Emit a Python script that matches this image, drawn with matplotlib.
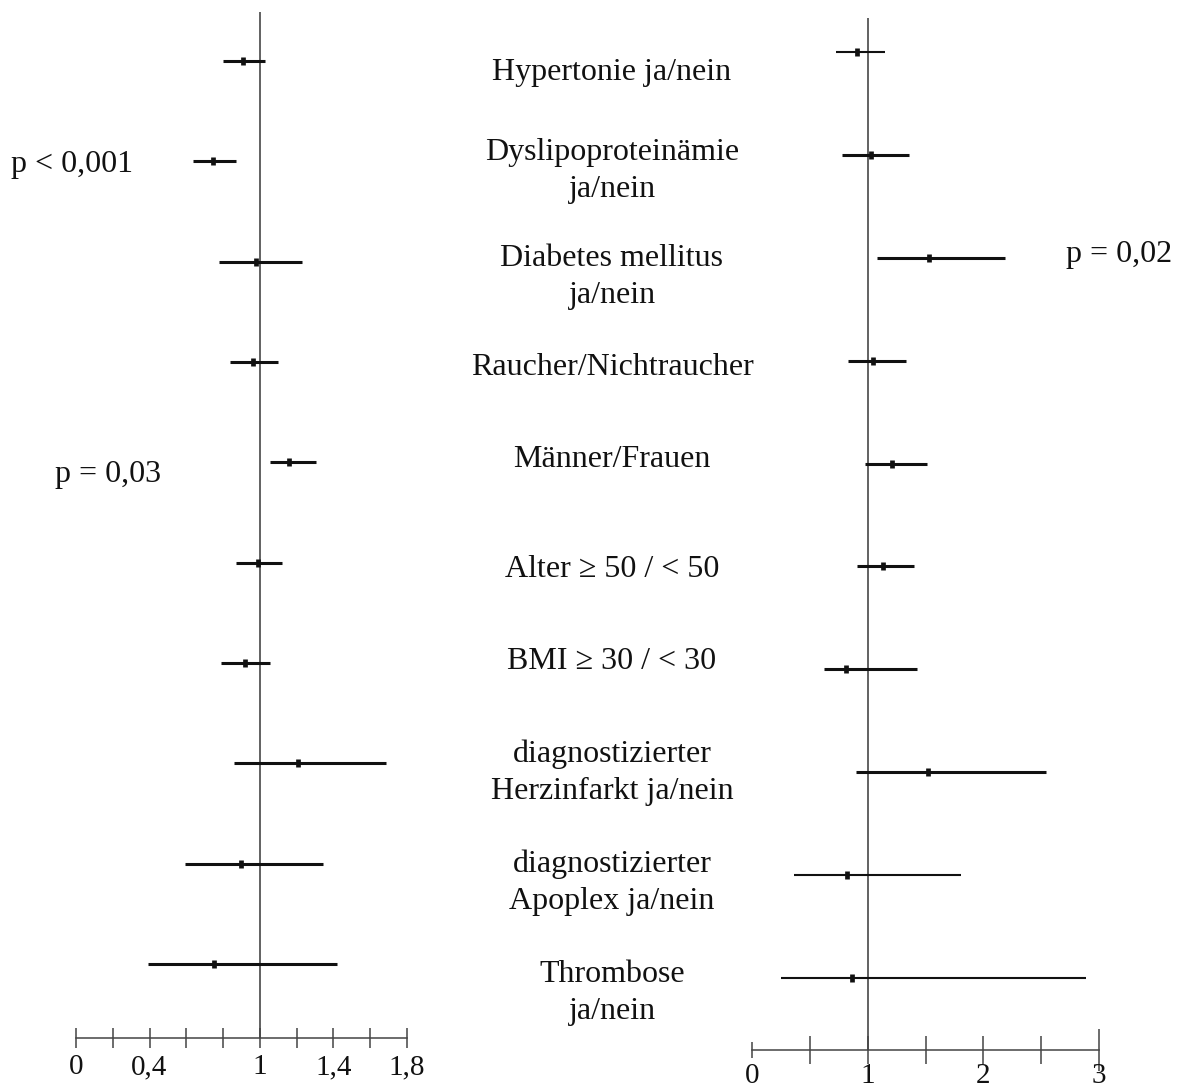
import matplotlib
matplotlib.use('Agg')
import matplotlib.pyplot as plt
import numpy as np

plt.rcParams['font.family'] = ['Liberation Serif', 'DejaVu Serif']

# ---------------- data ----------------
labels = ["Hypertonie ja/nein",
          "Dyslipoproteinämie\nja/nein",
          "Diabetes mellitus\nja/nein",
          "Raucher/Nichtraucher",
          "Männer/Frauen",
          "Alter ≥ 50 / < 50",
          "BMI ≥ 30 / < 30",
          "diagnostizierter\nHerzinfarkt ja/nein",
          "diagnostizierter\nApoplex ja/nein",
          "Thrombose\nja/nein"]

left_est = [0.91, 0.747, 0.98, 0.96, 1.16, 0.99, 0.92, 1.207, 0.896, 0.749]
left_lo = [0.80, 0.638, 0.78, 0.84, 1.055, 0.87, 0.79, 0.861, 0.593, 0.393]
left_hi = [1.027, 0.870, 1.23, 1.10, 1.305, 1.12, 1.055, 1.686, 1.345, 1.421]

right_est = [0.91, 1.026, 1.532, 1.046, 1.21, 1.13, 0.81, 1.524, 0.818, 0.864]
right_lo = [0.726, 0.78, 1.078, 0.83, 0.977, 0.907, 0.62, 0.899, 0.363, 0.25]
right_hi = [1.15, 1.36, 2.187, 1.33, 1.512, 1.40, 1.426, 2.54, 1.81, 2.884]

left_ticks = [0, 0.2, 0.4, 0.6, 0.8, 1.0, 1.2, 1.4, 1.6, 1.8]
left_ticklabels = ['0', '', '0,4', '', '', '1', '', '1,4', '', '1,8']
right_ticks = [0, 0.5, 1.0, 1.5, 2.0, 2.5, 3.0]
right_ticklabels = ['0', '', '1', '', '2', '', '3']

pvals = ["p < 0,001", "p = 0,03", "p = 0,02"]

# ---------------- style / layout ----------------
W, H = 1184, 1090
fig = plt.figure(figsize=(W / 100, H / 100), dpi=100)
ink = '#111111'
axis_col = '#444444'
ref_col = '#555555'

def px_axes(x0, x1, ytop, ybot):
    return fig.add_axes([x0 / W, 1 - ybot / H, (x1 - x0) / W, (ybot - ytop) / H])

axL = px_axes(76, 407, 12, 1038)
axR = px_axes(752, 1099, 18, 1050)

rows = np.arange(len(labels))
right_thin = [True, False, False, False, False, False, False, False, True, True]

def setup(ax, ticks, ticklabels, xlim, ylim, length, pad):
    ax.set_xlim(*xlim)
    ax.set_ylim(*ylim)
    for s in ['left', 'right', 'top']:
        ax.spines[s].set_visible(False)
    ax.spines['bottom'].set_color(axis_col)
    ax.spines['bottom'].set_linewidth(1.1)
    ax.set_yticks([])
    ax.set_xticks(ticks)
    ax.set_xticklabels(ticklabels)
    ax.tick_params(axis='x', direction='inout', length=length, width=1.1,
                   color=axis_col, labelsize=21, pad=pad, labelcolor=ink)
    ax.axvline(1, color=ref_col, lw=1.3, zorder=1)
    ax.patch.set_visible(False)

setup(axL, left_ticks, left_ticklabels, (0, 1.8), (9.738, -0.488), 14, 4.5)
setup(axR, right_ticks, right_ticklabels, (0, 3), (9.699, -0.330), 20, -0.8)

# left panel
axL.hlines(rows, left_lo, left_hi, color=ink, lw=2.2, zorder=3)
axL.plot(left_est, rows, ls='none', marker='|', ms=6, mew=3.4, color=ink, zorder=4)

# right panel
for i in rows:
    lw = 1.5 if right_thin[i] else 2.2
    axR.hlines(i, right_lo[i], right_hi[i], color=ink, lw=lw, zorder=3)
axR.plot(right_est, rows, ls='none', marker='|', ms=6, mew=3.4, color=ink, zorder=4)

# custom tick sizes on right axis
rticks = axR.xaxis.get_major_ticks()
rticks[0].tick1line.set_markersize(12)
rticks[-1].tick1line.set_markersize(30)

# middle labels (baseline of the last line, in pixels)
label_baselines = [80, 197, 303, 375, 467, 577, 669, 799, 909, 1019]
for lab, yb in zip(labels, label_baselines):
    fig.text(612 / W, 1 - yb / H, lab, ha='center', va='baseline',
             fontsize=23, color=ink, linespacing=1.38)

# p-values
fig.text(11 / W, 1 - 172 / H, pvals[0], ha='left', va='baseline', fontsize=23, color=ink)
fig.text(55 / W, 1 - 482 / H, pvals[1], ha='left', va='baseline', fontsize=23, color=ink)
fig.text(1066 / W, 1 - 262 / H, pvals[2], ha='left', va='baseline', fontsize=23, color=ink)

fig.savefig('out.png', dpi=100)
